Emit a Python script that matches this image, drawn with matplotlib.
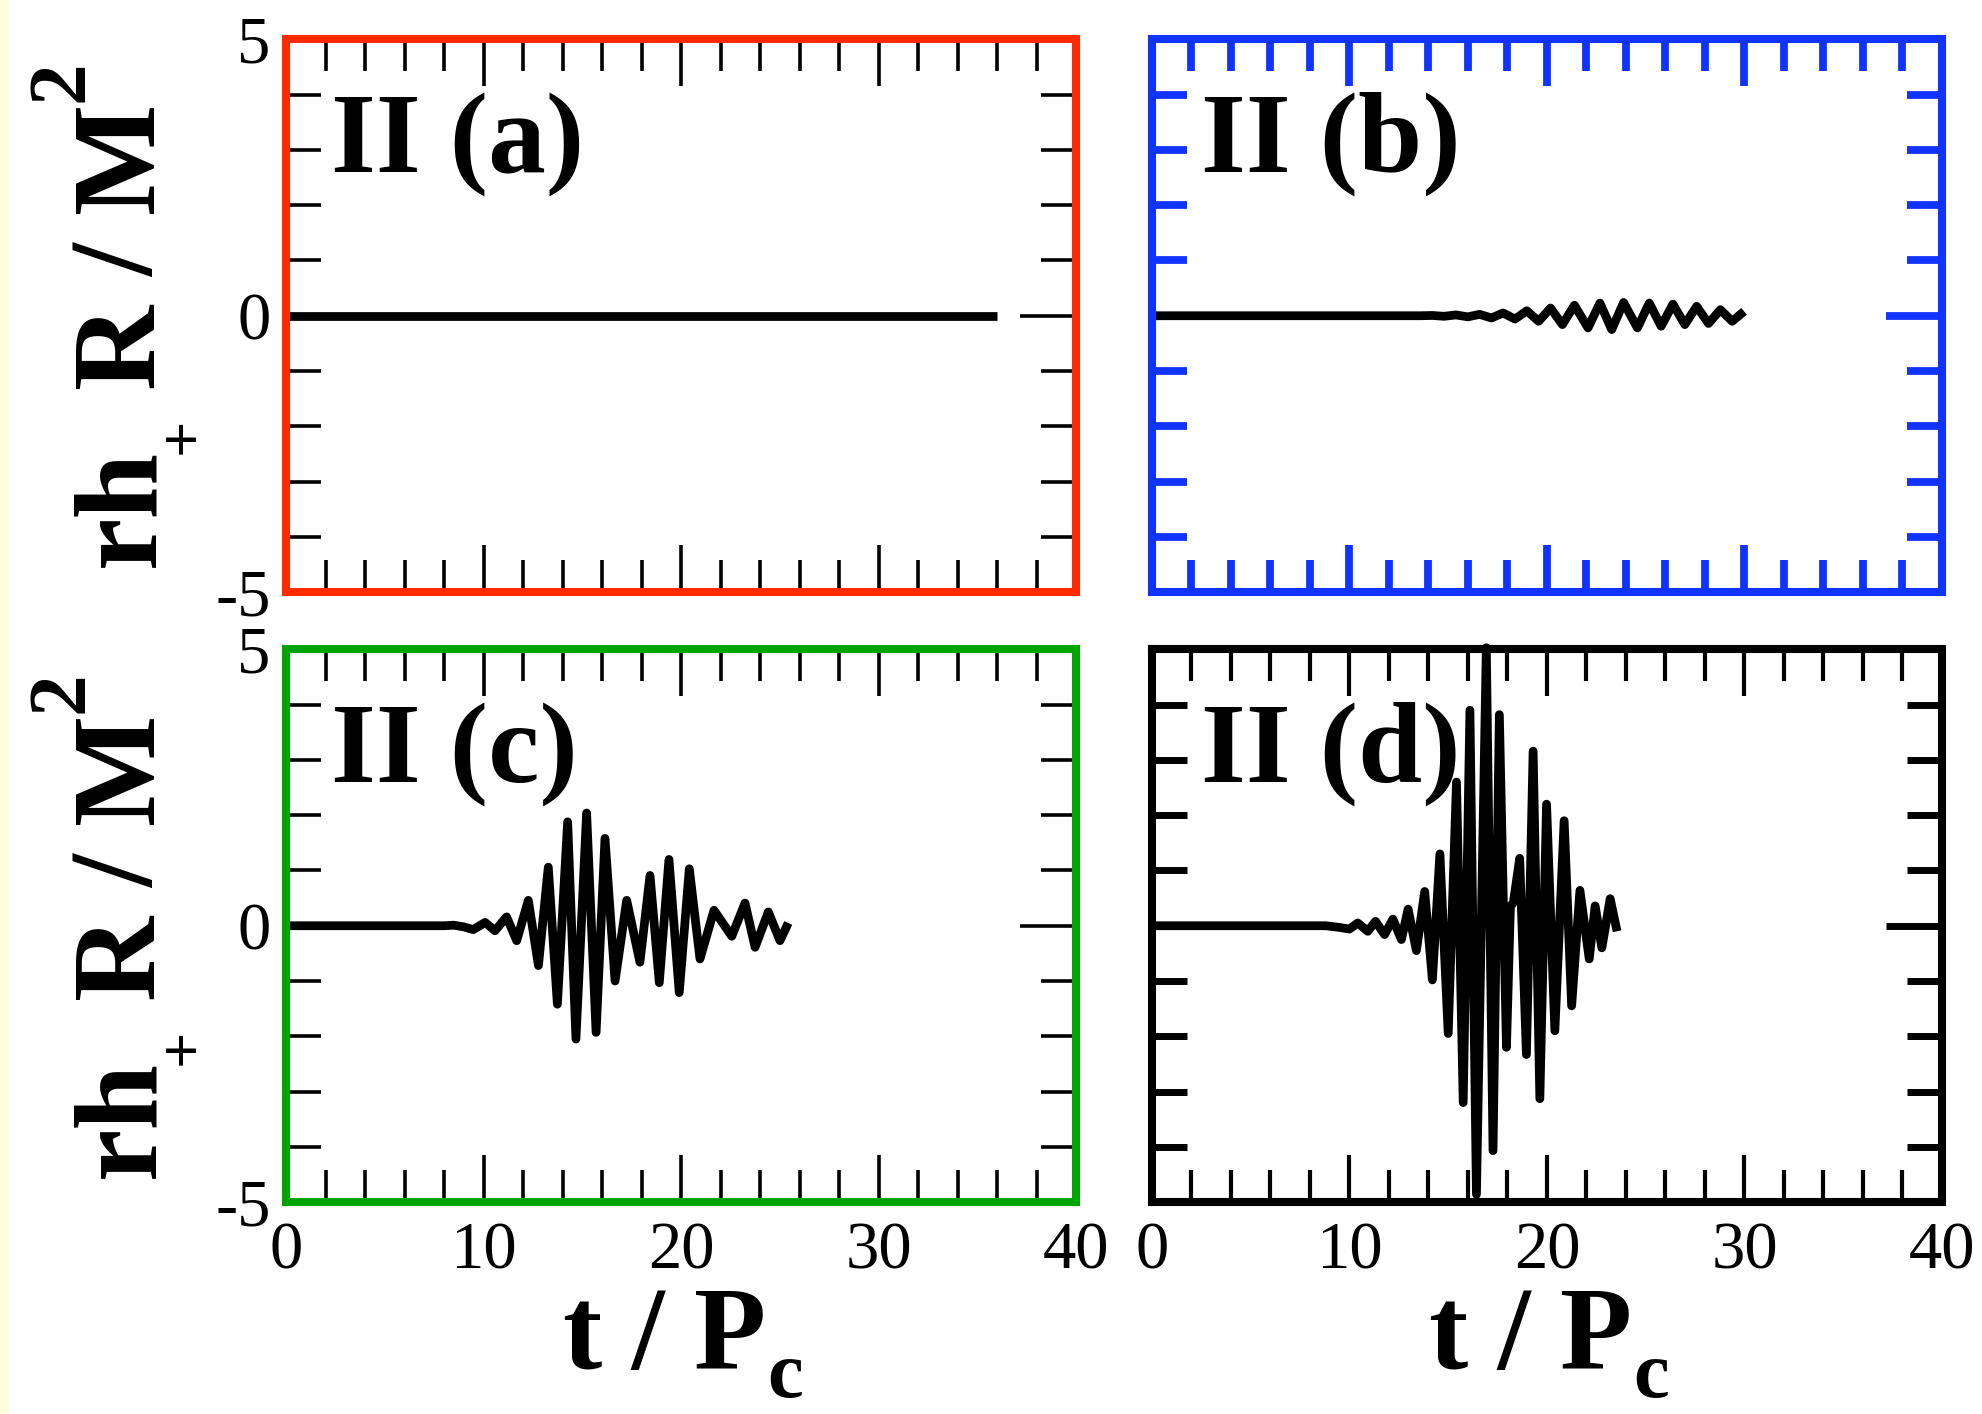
import matplotlib
matplotlib.use("Agg")
import matplotlib.pyplot as plt
from matplotlib.ticker import MultipleLocator
from matplotlib.patches import Rectangle

plt.rcParams['font.family'] = ['Liberation Serif', 'DejaVu Serif']
plt.rcParams['axes.unicode_minus'] = False

# waveforms (t / P_c, r h_+ R / M^2)
t_a = [0, 36]
h_a = [0, 0]

t_b = [0, 13.6, 14.2, 14.79, 15.39, 15.99, 16.59, 17.19, 17.78, 18.38, 18.98,
       19.58, 20.18, 20.78, 21.39, 22.08, 22.68, 23.28, 23.88, 24.58, 25.18,
       25.78, 26.38, 26.98, 27.58, 28.18, 28.78, 29.38, 29.98]
h_b = [0, 0, 0.005, -0.01, 0.015, -0.02, 0.025, -0.04, 0.05, -0.06, 0.09,
       -0.10, 0.14, -0.16, 0.19, -0.22, 0.23, -0.25, 0.24, -0.22, 0.23,
       -0.19, 0.21, -0.16, 0.17, -0.14, 0.11, -0.10, 0.08]

t_c = [0, 8.0, 8.5, 9.0, 9.48, 10.08, 10.58, 11.17, 11.68, 12.27, 12.78,
       13.28, 13.74, 14.26, 14.68, 15.22, 15.70, 16.15, 16.66, 17.25, 17.92,
       18.43, 18.90, 19.39, 19.91, 20.42, 20.96, 21.67, 22.57, 23.24, 23.75,
       24.42, 25.01, 25.43]
h_c = [0, 0, 0.01, -0.02, -0.07, 0.06, -0.09, 0.16, -0.27, 0.46, -0.72,
       1.06, -1.42, 1.88, -2.05, 2.04, -1.93, 1.58, -1.0, 0.46, -0.66,
       0.91, -1.03, 1.20, -1.21, 1.03, -0.60, 0.28, -0.19, 0.41, -0.39,
       0.25, -0.27, 0.05]

t_d = [0, 8.8, 9.49, 10.0, 10.42, 10.93, 11.32, 11.78, 12.20, 12.63, 12.97,
       13.39, 13.81, 14.20, 14.58, 15.0, 15.42, 15.76, 16.10, 16.43, 16.93,
       17.27, 17.59, 17.95, 18.15, 18.3, 18.62, 18.96, 19.30, 19.64, 19.98,
       20.40, 20.87, 21.25, 21.67, 22.14, 22.44, 22.78, 23.2, 23.55]
h_d = [0, 0, -0.03, -0.06, 0.05, -0.1, 0.08, -0.16, 0.12, -0.25, 0.3,
       -0.45, 0.62, -0.98, 1.3, -1.95, 2.6, -3.2, 3.9, -4.86, 5.03,
       -4.07, 3.82, -2.2, 0.35, 0.42, 1.22, -2.33, 3.16, -3.13, 2.2,
       -1.9, 1.9, -1.45, 0.64, -0.6, 0.36, -0.4, 0.49, -0.1]

panel_names = ["II (a)", "II (b)", "II (c)", "II (d)"]
frame_colors = ["#ff2a00", "#1133ff", "#00a400", "#000000"]
x_ticks = [0, 10, 20, 30, 40]
y_ticks = [-5, 0, 5]

W, H = 1982, 1414  # output size in pixels


def setup_axes(ax, color, tick_color, xw, yw, xlabels, ylabels):
    ax.set_xlim(0, 40)
    ax.set_ylim(-5, 5)
    ax.set_xticks(x_ticks)
    ax.set_yticks(y_ticks)
    ax.xaxis.set_minor_locator(MultipleLocator(2))
    ax.yaxis.set_minor_locator(MultipleLocator(1))
    for sp in ax.spines.values():
        sp.set_color(color)
        sp.set_linewidth(5.8)
        sp.set_capstyle('projecting')
    ax.tick_params(which='both', direction='in', top=True, right=True,
                   colors=tick_color, labelcolor='black', labelsize=48)
    ax.tick_params(axis='x', which='major', length=34, width=xw, pad=14)
    ax.tick_params(axis='x', which='minor', length=23, width=xw)
    ax.tick_params(axis='y', which='major', length=40, width=yw, pad=11)
    ax.tick_params(axis='y', which='minor', length=25, width=yw)
    ax.tick_params(labelbottom=xlabels, labelleft=ylabels)


def draw_ylabel(fig, dy):
    # rotated "rh_+ R / M^2", pieces placed by hand (baseline x, start y in px)
    pieces = [("rh", 85, 153, 567), ("+", 46, 200, 454), ("R", 85, 153, 388),
              ("/", 85, 153, 277), ("M", 85, 153, 213), ("2", 60, 82, 102)]
    for s, size, xb, ys in pieces:
        fig.text(xb / W, 1 - (ys + dy) / H, s, fontsize=size, fontweight='bold',
                 rotation=90, rotation_mode='anchor', ha='left', va='baseline')


def draw_xlabel(fig, dx):
    main_txt = fig.text((563 + dx) / W, 1 - 1369 / H, "t / P", fontsize=85,
                        fontweight='bold', ha='left', va='baseline')
    bb = main_txt.get_window_extent(fig.canvas.get_renderer())
    fig.text((bb.x1 + 1) / W, 1 - 1397 / H, "c", fontsize=58,
             fontweight='bold', ha='left', va='baseline')


def main():
    fig = plt.figure(figsize=(W / 100, H / 100), dpi=100)
    fig.patches.append(Rectangle((0, 0), 9 / W, 1, transform=fig.transFigure,
                                 facecolor='#fffde0', edgecolor='none', zorder=0))

    left = [0.1443, 0.5812, 0.1443, 0.5812]
    bottom = [0.5813, 0.5813, 0.1499, 0.1499]
    w, h = 0.3986, 0.3908
    data = [(t_a, h_a), (t_b, h_b), (t_c, h_c), (t_d, h_d)]
    tick_cols = ['black', frame_colors[1], 'black', 'black']
    xws = [2.6, 5.6, 2.6, 3.0]
    yws = [2.6, 5.6, 2.6, 5.0]

    for i in range(4):
        ax = fig.add_axes([left[i], bottom[i], w, h])
        setup_axes(ax, frame_colors[i], tick_cols[i], xws[i], yws[i],
                   xlabels=(i >= 2), ylabels=(i % 2 == 0))
        t, y = data[i]
        ax.plot(t, y, color='black', lw=6.3, solid_joinstyle='round',
                solid_capstyle='butt', clip_on=(i != 3))
        xo = 0.057 if i % 2 == 0 else 0.062
        ax.text(xo, 0.76, panel_names[i], transform=ax.transAxes,
                fontsize=83, fontweight='bold', ha='left', va='baseline')

    draw_ylabel(fig, 0)
    draw_ylabel(fig, 611)
    draw_xlabel(fig, 0)
    draw_xlabel(fig, 866)

    fig.savefig('out.png', dpi=100)


if __name__ == "__main__":
    main()
